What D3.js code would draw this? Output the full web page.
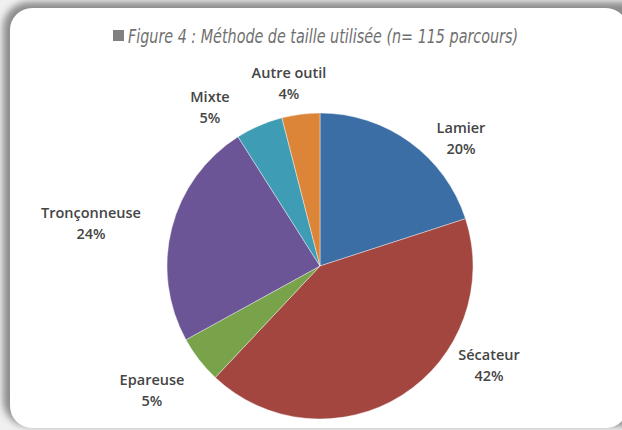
<!DOCTYPE html>
<html>
<head>
<meta charset="utf-8">
<script src="https://cdn.jsdelivr.net/npm/d3@7/dist/d3.min.js"></script>
<style>
  body { margin: 0; background: #fff; overflow: hidden; }
  svg { display: block; }
</style>
</head>
<body>
<div id="chart"></div>
<script>

// data
var categories = ['Lamier', 'Sécateur', 'Epareuse', 'Tronçonneuse', 'Mixte', 'Autre outil']
var percents = [20, 42, 5, 24, 5, 4]
var colors = ['#3b6ea5', '#a2463f', '#78a34a', '#6b5596', '#3f9cb5', '#dc8538']
var title = 'Figure 4 : Méthode de taille utilisée (n= 115 parcours)'

// label spots (x, y of first line) for each category
var labelPos = [[461, 133], [489, 360], [152, 385], [91, 218], [210, 102], [289, 78]]

var width = 622
var height = 430

var svg = d3.select('#chart')
  .append('svg')
  .attr('width', width)
  .attr('height', height)

var defs = svg.append('defs')
var blur = defs.append('filter')
  .attr('id', 'shadow')
  .attr('x', '-10%').attr('y', '-10%')
  .attr('width', '120%').attr('height', '120%')
blur.append('feGaussianBlur').attr('stdDeviation', 3.5)

// frame with a soft shadow on the top and left
svg.append('rect')
  .attr('x', 0).attr('y', 0)
  .attr('width', width).attr('height', height)
  .attr('fill', '#f0f0f0')

svg.append('rect')
  .attr('x', 3).attr('y', 2)
  .attr('width', 650).attr('height', 424)
  .attr('rx', 26)
  .attr('fill', '#8c8c8c')
  .attr('filter', 'url(#shadow)')

svg.append('rect')
  .attr('x', 10).attr('y', 8)
  .attr('width', 618).attr('height', 420)
  .attr('rx', 22)
  .attr('fill', '#ffffff')

// title
svg.append('rect')
  .attr('x', 113).attr('y', 30)
  .attr('width', 11).attr('height', 11)
  .attr('fill', '#808080')

svg.append('text')
  .attr('x', 128)
  .attr('y', 43)
  .attr('textLength', 390)
  .attr('lengthAdjust', 'spacingAndGlyphs')
  .style('font-family', '"Liberation Sans Narrow", "DejaVu Sans Condensed", "Liberation Sans", sans-serif')
  .style('font-style', 'italic')
  .style('font-size', '20px')
  .attr('fill', '#707070')
  .text(title)

// pie
var cx = 320
var cy = 266
var radius = 153

var pie = d3.pie()
  .sort(null)
  .value(function(d) { return d })

var arc = d3.arc()
  .innerRadius(0)
  .outerRadius(radius)

var g = svg.append('g')
  .attr('transform', 'translate(' + cx + ',' + cy + ')')

g.selectAll('path')
  .data(pie(percents))
  .enter()
  .append('path')
  .attr('d', arc)
  .attr('fill', function(d, i) { return colors[i] })
  .attr('stroke', '#ffffff')
  .attr('stroke-opacity', 0.5)
  .attr('stroke-width', 0.8)

// labels
var labels = svg.append('g')
  .style('font-family', '"Open Sans", "Liberation Sans", sans-serif')
  .style('font-size', '14.5px')
  .style('font-weight', 600)
  .attr('fill', '#454545')
  .attr('text-anchor', 'middle')

categories.forEach(function(c, i) {
  var t = labels.append('text')
    .attr('x', labelPos[i][0])
    .attr('y', labelPos[i][1])
  t.append('tspan').attr('x', labelPos[i][0]).text(c)
  t.append('tspan').attr('x', labelPos[i][0]).attr('dy', 21).text(percents[i] + '%')
})

</script>
</body>
</html>
